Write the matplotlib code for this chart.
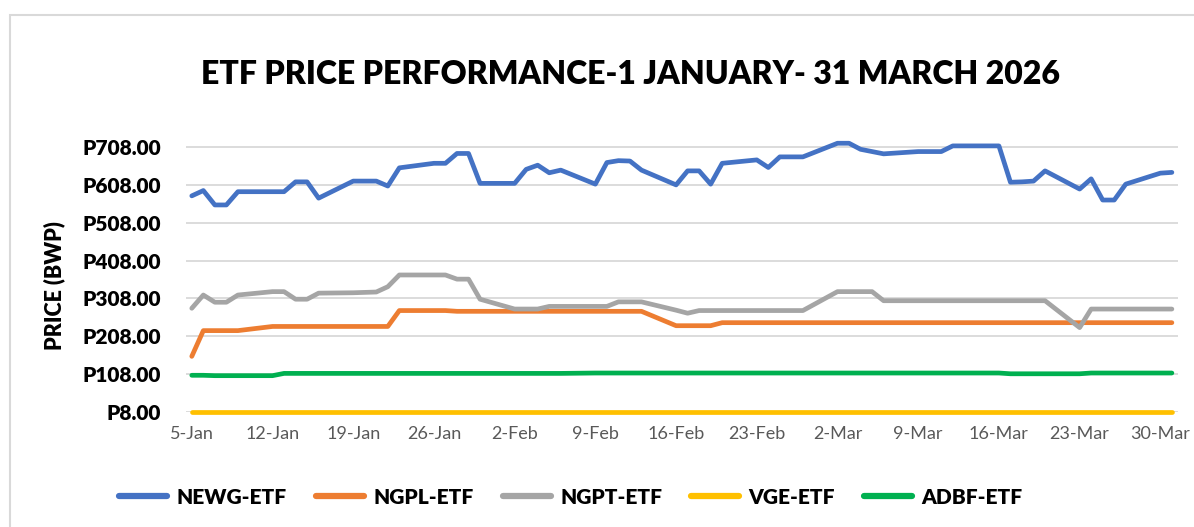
import matplotlib
matplotlib.use("Agg")
import matplotlib.pyplot as plt
from matplotlib.patches import Rectangle
import pandas as pd

plt.rcParams['font.family'] = ['Lato', 'DejaVu Sans']

# trading days 5 Jan - 31 Mar 2026
dates = pd.bdate_range('2026-01-05', '2026-03-31')

newg = [579, 593, 555, 555, 590,
        590, 590, 616, 616, 573,
        618, 618, 618, 605, 653,
        665, 665, 691, 691, 612,
        612, 649, 660, 640, 647,
        610, 667, 672, 671, 647,
        608, 645, 645, 610, 665,
        674, 654, 682, 682, 682,
        718, 718, 702, 696, 690,
        696, 696, 696, 711, 711,
        711, 615, 616, 618, 645,
        597, 624, 568, 568, 610,
        639, 641]

ngpl = [155, 223, 223, 223, 223,
        234, 234, 234, 234, 234,
        234, 234, 234, 234, 276,
        276, 276, 274, 274, 274,
        274, 274, 274, 274, 274,
        274, 274, 274, 274, 274,
        236, 236, 236, 236, 244,
        244, 244, 244, 244, 244,
        244, 244, 244, 244, 244,
        244, 244, 244, 244, 244,
        244, 244, 244, 244, 244,
        244, 244, 244, 244, 244,
        244, 244]

ngpt = [282, 317, 298, 298, 317,
        326, 326, 306, 306, 322,
        323, 324, 325, 339, 370,
        370, 370, 359, 359, 306,
        280, 280, 280, 287, 287,
        287, 287, 299, 299, 299,
        277, 269, 276, 276, 276,
        276, 276, 276, 276, 276,
        326, 326, 326, 326, 302,
        302, 302, 302, 302, 302,
        302, 302, 302, 302, 302,
        231, 280, 280, 280, 280,
        280, 280]

vge = [9, 9, 9, 9, 9, 9, 9, 9, 9, 9,
       9, 9, 9, 9, 9, 9, 9, 9, 9, 9,
       9, 9, 9, 9, 9, 9, 9, 9, 9, 9,
       9, 9, 9, 9, 9, 9, 9, 9, 9, 9,
       9, 9, 9, 9, 9, 9, 9, 9, 9, 9,
       9, 9, 9, 9, 9, 9, 9, 9, 9, 9,
       9, 9]

adbf = [105, 105, 104, 104, 104,
        104, 110, 110, 110, 110,
        110, 110, 110, 110, 110,
        110, 110, 110, 110, 110,
        110, 110, 110, 110, 110,
        111, 111, 111, 111, 111,
        111, 111, 111, 111, 111,
        111, 111, 111, 111, 111,
        111, 111, 111, 111, 111,
        111, 111, 111, 111, 111,
        111, 109, 109, 109, 109,
        109, 111, 111, 111, 111,
        111, 111]

series_names = ['NEWG-ETF', 'NGPL-ETF', 'NGPT-ETF', 'VGE-ETF', 'ADBF-ETF']
series_colors = ['#4472C4', '#ED7D31', '#A5A5A5', '#FFC000', '#00B050']

y_ticks = [8, 108, 208, 308, 408, 508, 608, 708]
y_tick_labels = ['P8.00', 'P108.00', 'P208.00', 'P308.00', 'P408.00',
                 'P508.00', 'P608.00', 'P708.00']
x_tick_dates = pd.date_range('2026-01-05', '2026-03-30', freq='7D')
x_tick_labels = ['5-Jan', '12-Jan', '19-Jan', '26-Jan', '2-Feb', '9-Feb', '16-Feb',
                 '23-Feb', '2-Mar', '9-Mar', '16-Mar', '23-Mar', '30-Mar']

fig = plt.figure(figsize=(11.94, 5.27), dpi=100)
ax = fig.add_axes([0.1558, 0.2182, 0.8305, 0.5222])

for vals, name, col in zip([newg, ngpl, ngpt, vge, adbf], series_names, series_colors):
    ax.plot(dates, vals, color=col, linewidth=3.4, label=name,
            solid_capstyle='round', solid_joinstyle='round', clip_on=False, zorder=3)

half = pd.Timedelta(hours=12)
ax.set_xlim(dates[0] - half, dates[-1] + half)
ax.set_ylim(8, 735)

ax.set_yticks(y_ticks)
ax.set_yticklabels(y_tick_labels, fontsize=15, fontweight='heavy', color='black')
ax.set_xticks(x_tick_dates)
ax.set_xticklabels(x_tick_labels, fontsize=13, color='#595959')
ax.tick_params(axis='both', length=0)
ax.tick_params(axis='y', pad=18)
ax.tick_params(axis='x', pad=10)

ax.grid(axis='y', color='#D9D9D9', linewidth=1.3)
ax.set_axisbelow(True)
for s in ax.spines.values():
    s.set_visible(False)

ax.set_ylabel('PRICE (BWP)', fontsize=15.5, fontweight='heavy')
ax.yaxis.set_label_coords(-0.122, 0.461)

fig.text(0.528, 1 - 75 / 527, 'ETF PRICE PERFORMANCE-1 JANUARY- 31 MARCH 2026',
         ha='center', va='center', fontsize=23, fontweight='heavy')

leg = fig.legend(loc='center', bbox_to_anchor=(571 / 1194, 1 - 497 / 527), ncol=5,
                 frameon=False, prop={'size': 15, 'weight': 'heavy'},
                 handlelength=2.3, handletextpad=0.45, columnspacing=1.4)
for line in leg.get_lines():
    line.set_linewidth(4.5)

# chart border
fig.patches.append(Rectangle((10 / 1194, -0.1), 1.2, 1.1 - 15 / 527,
                             transform=fig.transFigure, fill=False,
                             edgecolor='#D9D9D9', linewidth=1.5))

fig.savefig('out.png', dpi=100)
